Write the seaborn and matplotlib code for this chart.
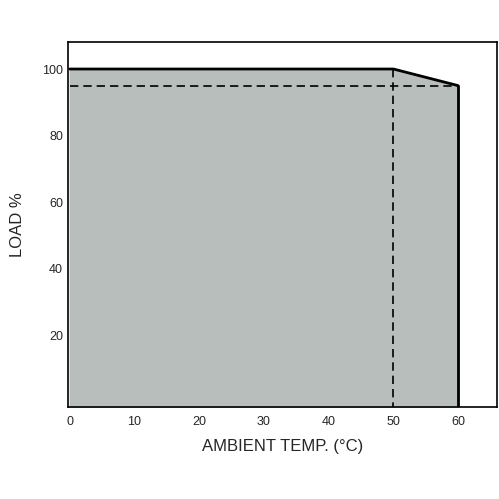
import matplotlib
matplotlib.use('agg')
import matplotlib.pyplot as plt
import seaborn as sns

temp = [0, 50, 60]
load = [100, 100, 95]
derate_level = 95
x_ticks = [0, 10, 20, 30, 40, 50, 60]
y_ticks = [20, 40, 60, 80, 100]

sns.set_style('white')
plt.rcParams['font.family'] = ['Liberation Sans', 'DejaVu Sans']

fig = plt.figure(figsize=(4.99, 4.99), dpi=100)
ax = fig.add_axes([0.136, 0.184, 0.86, 0.731])
y_bottom = -1.7

ax.fill_between(temp, load, y_bottom, color='#b8bebc', zorder=1)
sns.lineplot(x=temp, y=load, ax=ax, color='black', lw=2, zorder=3)
ax.plot([temp[-1], temp[-1]], [load[-1], y_bottom], color='black', lw=2, zorder=3)
ax.plot([0, temp[-1]], [derate_level, derate_level], color='black', lw=1.2, ls=(0, (5, 3)), zorder=2)
ax.plot([temp[1], temp[1]], [load[1], y_bottom], color='black', lw=1.2, ls=(0, (5, 3)), zorder=2)

ax.set_xlim(-0.3, 66)
ax.set_ylim(y_bottom, 108)
ax.set_xticks(x_ticks)
ax.set_yticks(y_ticks)
ax.tick_params(direction='in', length=4, width=1, color='black', labelsize=9)
ax.tick_params(axis='x', pad=6)
for s in ax.spines.values():
    s.set_color('black')
    s.set_linewidth(1.2)
ax.set_xlabel('AMBIENT TEMP. (°C)', fontsize=12, labelpad=8)
ax.set_ylabel('LOAD %', fontsize=12, labelpad=12)

fig.savefig('out.png', dpi=100)
